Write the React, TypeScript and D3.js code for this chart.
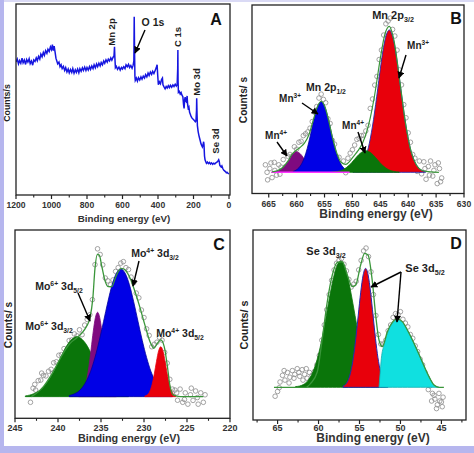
import React from "react";
import * as d3 from "d3";

type Pt = [number, number];

// ---------- Panel A: survey spectrum (binding energy eV, counts a.u.) ----------
const SURVEY: Pt[] = [
  [1200, 69.5], [1193, 71], [1186, 68.5], [1180, 70.2], [1173, 68.8], [1166, 71.5], [1160, 69], [1153, 70.5],
  [1146, 68.2], [1140, 70.8], [1133, 69.4], [1126, 71.2], [1120, 68.6], [1113, 70], [1106, 67.8], [1100, 70.6],
  [1093, 69.8], [1086, 71.6], [1080, 70.2], [1073, 72.4], [1066, 71], [1060, 73.6], [1053, 72.2], [1046, 74.5],
  [1040, 73], [1033, 75.4], [1026, 74], [1020, 76.2], [1013, 75], [1006, 77.4], [1000, 76], [995, 78.6],
  [990, 75.5], [985, 77.8], [980, 74.8], [975, 71.5], [970, 70], [965, 68.5], [958, 69.4], [952, 67],
  [946, 68], [940, 66], [933, 67.2], [926, 65], [920, 66.5], [913, 64.2], [906, 65.8], [900, 63.8],
  [893, 65.5], [886, 64], [880, 66], [873, 63.6], [866, 65.4], [860, 64], [853, 65.8], [846, 63.8],
  [840, 66], [833, 64.6], [826, 66.4], [820, 65], [813, 66.8], [806, 65], [800, 66.6], [793, 65.2],
  [786, 67], [780, 65.6], [773, 67.4], [766, 66], [760, 68], [753, 66.4], [746, 68.4], [740, 67],
  [733, 68.8], [726, 67.4], [720, 69.2], [713, 68], [706, 70], [700, 68.8], [693, 70.6], [686, 69.4],
  [680, 71], [673, 70], [666, 71.6], [660, 70.4], [653, 72], [648, 72.6], [645, 77.5], [643, 72],
  [640, 66.5], [635, 67.2], [628, 65.6], [620, 66.8], [613, 65.2], [606, 66.6], [600, 65.8], [593, 67],
  [586, 66], [580, 68], [573, 67], [566, 68.2], [560, 66.6], [553, 67.6], [546, 66.2], [540, 67.8],
  [536, 70], [534, 93.3], [532, 75], [530, 62], [528, 59.8], [522, 61], [516, 59.4], [510, 61.2],
  [503, 60], [496, 61.6], [490, 60.4], [483, 62], [476, 61], [470, 62.8], [463, 61.6], [456, 63.6],
  [450, 62.4], [443, 64.2], [436, 63], [430, 64.6], [423, 63.4], [416, 65], [410, 66.4], [405, 68],
  [402, 63], [398, 57.5], [392, 59], [386, 58], [380, 60.2], [375, 61], [372, 57.5], [366, 56.4],
  [360, 55.4], [354, 56.6], [348, 55.8], [342, 57], [336, 56], [330, 57.2], [323, 56.2], [316, 57.4],
  [310, 56.6], [303, 57.8], [297, 56.8], [292, 57.6], [289, 66], [288, 75.8], [287, 60], [285, 53.5],
  [280, 54], [275, 52.6], [270, 53.4], [265, 52], [260, 51.2], [256, 47], [253, 45], [250, 49.5],
  [247, 51], [244, 49], [241, 48.6], [238, 50], [236, 51.6], [233, 47], [230, 45.2], [226, 45.8],
  [222, 43], [218, 42], [214, 41], [210, 40.2], [205, 39.6], [200, 39.2], [195, 38.6], [190, 38],
  [186, 38.6], [183, 44], [182, 50.4], [180, 42], [178, 36], [174, 33], [170, 31], [166, 29.5],
  [162, 28], [158, 26.5], [154, 25.6], [150, 24.8], [146, 26], [143, 27.5], [141, 26], [138, 20],
  [135, 18], [131, 17], [127, 16.2], [122, 16.8], [116, 16], [110, 16.6], [104, 15.8], [98, 16.4],
  [92, 15.6], [86, 16.2], [80, 15.8], [74, 16.4], [68, 16.8], [62, 17.4], [58, 18], [55, 17.2],
  [52, 15.2], [48, 14.6], [44, 14.2], [40, 14.8], [35, 13.4], [30, 12.6], [25, 12.2], [20, 11.8],
  [15, 11.2], [10, 11.4], [5, 10.8], [0, 10.6],
];
const A_MAJOR = [1200, 1000, 800, 600, 400, 200, 0];
const A_MINOR = [1100, 900, 700, 500, 300, 100];

// ---------- Panel B: Mn 2p ----------
const B_BASE = 11;
const B_MN4_LEFT: Pt[] = [
  [664.5, 11], [663.5, 11.6], [662.5, 13.5], [661.5, 17], [660.8, 20.5], [660.1, 22], [659.4, 21],
  [658.6, 18], [657.8, 14.5], [657, 12.3], [656, 11.2], [655, 11],
];
const B_MN3_LEFT: Pt[] = [
  [660.6, 11.5], [659.6, 13.4], [659.1, 15.5], [658.6, 18.9], [658.1, 23.7], [657.6, 29.8], [657.1, 36.5],
  [656.6, 42.6], [656.1, 47], [655.6, 48.6], [655.1, 47], [654.6, 42.6], [654.1, 36.5], [653.6, 29.8],
  [653.1, 23.7], [652.6, 18.9], [652.1, 15.5], [651.6, 13.4], [650.6, 11.5],
];
const B_MN4_RIGHT: Pt[] = [
  [653.6, 11.1], [652.6, 11.5], [651.6, 12.5], [650.6, 14.7], [649.6, 18], [648.6, 21.1], [647.6, 22.5],
  [646.6, 21.1], [645.6, 18], [644.6, 14.7], [643.6, 12.5], [642.6, 11.5], [641.6, 11.1],
];
const B_MN3_RIGHT: Pt[] = [
  [649.9, 11.3], [649.4, 11.8], [648.65, 13.4], [647.9, 17], [647.15, 24], [646.4, 35.6], [645.65, 51.2],
  [644.9, 68.2], [644.15, 81.6], [643.4, 86.7], [642.65, 81.6], [641.9, 68.2], [641.15, 51.2], [640.4, 35.6],
  [639.65, 24], [638.9, 17], [638.15, 13.4], [637.4, 11.8], [636.9, 11.3],
];
const B_ENVELOPE: Pt[] = [
  [664.4, 11.2], [663.5, 11.8], [662.5, 13.6], [661.5, 17.2], [660.8, 20.7], [660.1, 22.6], [659.4, 24.2],
  [658.6, 26.5], [657.8, 31], [657, 39], [656.3, 45.7], [655.6, 48.8], [654.9, 45.6], [654.2, 37.8],
  [653.5, 28.6], [652.8, 21.2], [652, 16.2], [651.2, 15.2], [650.5, 16.8], [649.8, 19.5], [649, 22.5],
  [648.2, 26.5], [647.5, 32], [646.8, 40], [646, 52.4], [645, 71.6], [644.2, 84.2], [643.4, 88.6],
  [642.5, 80.3], [641.5, 59.4], [640.5, 37.4], [639.5, 22.3], [638.5, 14.8], [637.5, 12], [636, 11.2], [634.5, 11],
];
const B_POINTS: Pt[] = [
  [665.6, 15], [665.2, 7], [664.8, 13], [664.4, 8.2], [664, 16.3], [663.6, 9.5], [663.2, 15], [662.8, 13.8],
  [662.4, 17.8], [662, 14], [661.6, 19.6], [661.2, 20.5], [660.8, 19.5], [660.4, 24.6], [660, 23.3], [659.6, 27],
  [659.2, 27.5], [658.8, 30.5], [658.4, 31.5], [658, 32.5], [657.6, 34.5], [657.2, 38], [656.8, 43], [656.4, 46],
  [656, 50.5], [655.6, 52.6], [655.2, 49.8], [654.8, 48], [654.4, 39.5], [654, 37], [653.6, 28], [653.2, 26],
  [652.8, 19], [652.4, 19], [652, 13], [651.6, 17], [651.2, 10.8], [650.8, 18.5], [650.4, 21.2], [650, 23],
  [649.6, 25.5], [649.2, 28.5], [648.8, 29], [648.4, 30.5], [648, 30.7], [647.6, 33], [647.2, 36], [646.8, 45],
  [646.4, 50], [646, 57.4], [645.6, 62], [645.2, 71], [644.8, 76], [644.4, 84], [644, 90], [643.6, 91.5],
  [643.2, 93], [642.8, 87], [642.4, 83.5], [642, 76], [641.6, 65.5], [641.2, 57.5], [640.8, 47], [640.4, 40],
  [640, 32], [639.6, 27], [639.2, 20.5], [638.8, 18.5], [638.4, 11.5], [638, 17], [637.6, 10.2], [637.2, 16.6],
  [636.8, 7.3], [636.4, 14.1], [636, 17], [635.6, 9], [635.2, 15], [634.8, 5], [634.4, 13], [634, 8],
  [665.3, 11], [664.6, 16], [663.9, 12], [663, 10], [637, 13], [636.2, 9.5], [635.4, 12], [634.6, 16], [634.2, 6],
];
const B_MAGENTA: Pt[] = [[664.5, 11], [650.5, 11]];
const B_MAJOR = [665, 660, 655, 650, 645, 640, 635, 630];
const B_MINOR = [662.5, 657.5, 652.5, 647.5, 642.5, 637.5, 632.5];

// ---------- Panel C: Mo 3d ----------
const C_BASE = 11.5;
const C_MO6_32: Pt[] = [
  [243.8, 11.9], [242.8, 13.1], [241.8, 16.1], [240.8, 22.3], [239.8, 31.2], [238.8, 39.8], [237.8, 43.4],
  [236.8, 39.8], [235.8, 31.2], [234.8, 22.3], [233.8, 16.1], [232.8, 13.1], [231.8, 11.9],
];
const C_MO6_52: Pt[] = [
  [237.6, 11.8], [237.4, 12.3], [237.15, 13.5], [236.9, 16], [236.65, 20.6], [236.4, 27.6], [236.15, 36.7],
  [235.9, 46.2], [235.65, 53.5], [235.4, 56.3], [235.15, 53.5], [234.9, 46.2], [234.65, 36.7], [234.4, 27.6],
  [234.15, 20.6], [233.9, 16], [233.65, 13.5], [233.4, 12.3], [233.2, 11.8],
];
const C_MO4_32: Pt[] = [
  [238.7, 12.1], [238.2, 12.8], [237.7, 14], [237.2, 16.2], [236.7, 19.8], [236.2, 25], [235.7, 32.3],
  [235.2, 41.3], [234.7, 51.5], [234.2, 61.9], [233.7, 71], [233.2, 77.1], [232.7, 79.3], [232.2, 77.1],
  [231.7, 71], [231.2, 61.9], [230.7, 51.5], [230.2, 41.3], [229.7, 32.3], [229.2, 25], [228.7, 19.8],
  [228.2, 16.2], [227.7, 14], [227.2, 12.8], [226.7, 12.1],
];
const C_MO4_52: Pt[] = [
  [229.9, 11.9], [229.55, 12.7], [229.3, 14.5], [229.05, 18.1], [228.8, 23.6], [228.55, 30.2], [228.3, 35.8],
  [228.05, 38], [227.8, 35.8], [227.55, 30.2], [227.3, 23.6], [227.05, 18.1], [226.8, 14.5], [226.55, 12.7], [226.3, 11.9],
];
const C_ENVELOPE: Pt[] = [
  [243.1, 11.5], [242.5, 13.3], [241.7, 16.8], [240.9, 22.1], [240.15, 28.3], [239.4, 34.5], [238.6, 39.8],
  [237.8, 42.8], [237.25, 45.1], [236.7, 48.7], [236.3, 53.1], [235.95, 63.7], [235.7, 79.6], [235.43, 87.1],
  [235.2, 86.7], [234.9, 80.5], [234.5, 72.6], [234.15, 69.9], [233.75, 69.9], [233.35, 74.3], [233, 77.9],
  [232.6, 79.6], [232.2, 78.8], [231.6, 74.3], [231.05, 67.3], [230.5, 59.3], [229.9, 49.6], [229.3, 40.7],
  [228.85, 37.2], [228.45, 39.8], [228.05, 41.6], [227.65, 38.1], [227.3, 28.3], [227, 17.7], [226.6, 12.4],
  [225.8, 11.5], [223.1, 11.5],
];
const C_POINTS: Pt[] = [
  [243.2, 8.5], [242.9, 16], [242.6, 15], [242.3, 20], [242, 20.3], [241.7, 22.8], [241.4, 22.5], [241.1, 25],
  [240.8, 26], [240.5, 29.5], [240.2, 30], [239.9, 33.5], [239.6, 33.8], [239.3, 37], [239, 36.2], [238.7, 41.3],
  [238.4, 41.6], [238.1, 44.8], [237.8, 43.8], [237.5, 47], [237.2, 44.4], [236.9, 49.5], [236.6, 52.5], [236.3, 55],
  [236, 63], [235.7, 81.6], [235.4, 90], [235.1, 87], [234.8, 81.5], [234.5, 74.5], [234.2, 73], [233.9, 70.9],
  [233.6, 73.5], [233.3, 78], [233, 80], [232.7, 82.4], [232.4, 83.2], [232.1, 80], [231.8, 79], [231.5, 75],
  [231.2, 72], [230.9, 66.5], [230.6, 64], [230.3, 57.5], [230, 53.5], [229.7, 47.5], [229.4, 44], [229.1, 38],
  [228.8, 39.3], [228.5, 40.4], [228.2, 43], [227.9, 41.5], [227.6, 35], [227.3, 29.3], [227, 20.7], [226.7, 15.5],
  [226.4, 15], [226.1, 9.6], [225.8, 15.5], [225.5, 8.5], [225.2, 13.5], [224.9, 7.5], [224.6, 12.5], [224.3, 9.5],
  [224, 14.5], [223.7, 7.5], [223.4, 13.5], [223.1, 8.5], [222.9, 12.5],
  [242.7, 18], [241.9, 24], [240.6, 24], [223.8, 11], [224.5, 16], [225.3, 10], [226.2, 13.5],
];
const C_MAJOR = [245, 240, 235, 230, 225, 220];
const C_MINOR = [242.5, 237.5, 232.5, 227.5, 222.5];

// ---------- Panel D: Se 3d ----------
const D_BASE = 17.2;
const D_SE_32: Pt[] = [
  [62.8, 17.6], [62.3, 17.9], [61.8, 18.8], [61.3, 20.7], [60.8, 24.2], [60.3, 30], [59.8, 38.3], [59.3, 49.1],
  [58.8, 61.2], [58.3, 72.5], [57.8, 80.7], [57.3, 83.7], [56.8, 80.7], [56.3, 72.5], [55.8, 61.2], [55.3, 49.1],
  [54.8, 38.3], [54.3, 30], [53.8, 24.2], [53.3, 20.7], [52.8, 18.8], [52.3, 17.9], [51.8, 17.6],
];
const D_SE_52A: Pt[] = [
  [57, 17.9], [56.65, 19], [56.35, 21.3], [56.05, 25.7], [55.75, 32.8], [55.45, 42.9], [55.15, 55.2],
  [54.85, 67.3], [54.55, 76.4], [54.25, 79.8], [53.95, 76.4], [53.65, 67.3], [53.35, 55.2], [53.05, 42.9],
  [52.75, 32.8], [52.45, 25.7], [52.15, 21.3], [51.85, 19], [51.55, 17.9],
];
const D_SE_52B: Pt[] = [
  [52.62, 17.2], [52.5, 23.7], [52.33, 32.5], [52.01, 39.5], [51.6, 45.6], [50.99, 50.9], [50.38, 52.6],
  [49.77, 51.4], [49.16, 47.4], [48.35, 40.4], [47.53, 32.5], [46.92, 26.3], [46.31, 21.1], [45.9, 18.4], [45.3, 17.2],
];
const D_ENVELOPE: Pt[] = [
  [65.44, 17.2], [61.57, 17.2], [60.96, 19.3], [60.15, 25.4], [59.54, 43], [58.93, 62.3], [58.32, 76.3],
  [57.71, 83], [57.1, 83.3], [56.49, 76.3], [55.87, 70.2], [55.47, 71], [54.86, 81.6], [54.37, 87.7],
  [53.96, 86.8], [53.43, 72.8], [53.03, 55.3], [52.62, 42.1], [52.21, 38.6], [51.6, 46.5], [51, 51.4],
  [50.4, 53.2], [49.77, 51.8], [49.16, 47.4], [48.35, 40.4], [47.53, 32.5], [46.72, 24.6], [45.9, 18.4],
  [45.3, 17.2], [44.7, 17.2],
];
const D_POINTS: Pt[] = [
  [65.3, 12.5], [65, 15], [64.7, 20], [64.4, 23.5], [64.1, 21], [63.8, 25], [63.5, 22.5], [63.2, 26],
  [62.9, 24], [62.6, 27], [62.3, 23], [62, 26.5], [61.7, 24], [61.4, 22], [61.1, 25], [60.8, 23.5],
  [60.5, 25.5], [60.2, 29], [59.9, 34], [59.6, 42], [59.3, 50], [59, 58], [58.7, 66], [58.4, 73.5],
  [58.1, 79], [57.8, 82.5], [57.5, 84], [57.2, 85], [56.9, 82], [56.6, 78.5], [56.3, 74], [56, 70],
  [55.7, 71.5], [55.4, 73], [55.1, 79], [54.8, 84], [54.5, 89], [54.2, 90.5], [53.9, 86], [53.6, 78],
  [53.3, 66], [53, 55], [52.7, 45], [52.4, 40], [52.1, 40], [51.8, 42], [51.5, 47], [51.2, 50],
  [50.9, 54], [50.6, 56], [50.3, 55.5], [50, 57], [49.7, 53], [49.4, 51], [49.1, 49], [48.8, 45],
  [48.5, 43], [48.2, 39], [47.9, 36], [47.6, 32], [47.3, 29], [47, 25], [46.7, 22], [46.4, 18],
  [46.1, 14], [45.8, 11], [45.5, 8], [45.2, 10], [44.9, 7],
  [46.6, 16], [46.2, 10], [45.9, 13], [45.6, 6], [45.3, 14], [45, 9.5], [44.8, 12],
  [64.8, 17], [64.2, 26], [63.6, 19.5], [63, 22], [62.4, 25], [61.9, 21], [61.5, 27], [61, 21],
];
const D_MAJOR = [65, 60, 55, 50, 45];
const D_MINOR = [67.5, 62.5, 57.5, 52.5, 47.5, 42.5];

// ---------- styling ----------
const FONT = "'Liberation Sans', Arial, Helvetica, sans-serif";
const INK = "#1e1e1e";
const COL = {
  survey: "#1616e0",
  envelope: "#3a963a",
  circle: "#8c8c8c",
  red: "#e8000b",
  blue: "#0000e6",
  green: "#0a750a",
  purple: "#7f0a7f",
  cyan: "#10e0e0",
  magenta: "#ff33ff",
};

interface Cfg {
  frame: { x0: number; x1: number; y0: number; y1: number };
  xDomain: [number, number];
  xRange: [number, number];
  yRange: [number, number];
  majors: number[];
  minors: number[];
  tickSize: number;
  tickBaseline: number;
  xLabelSize: number;
  xLabelX: number;
  xLabelY: number;
  yLabel: string;
  yLabelX: number;
  yLabelY: number;
  yLabelSize: number;
  letter: string;
  letterX: number;
  letterY: number;
}

function richSpans(text: string, size: number) {
  const parts = text.split(/(\^\{[^}]*\}|_\{[^}]*\})/).filter((s) => s.length);
  let off = 0;
  return parts.map((p, i) => {
    let target = 0;
    let content = p;
    let fs = size;
    if (p.startsWith("^{")) {
      target = -size * 0.42;
      content = p.slice(2, -1);
      fs = size * 0.65;
    } else if (p.startsWith("_{")) {
      target = size * 0.28;
      content = p.slice(2, -1);
      fs = size * 0.65;
    }
    const dy = target - off;
    off = target;
    return (
      <tspan key={i} dy={dy} fontSize={fs}>
        {content}
      </tspan>
    );
  });
}

function Label(props: { x: number; y: number; text: string; size: number; rotate?: boolean; anchor?: string }) {
  const { x, y, text, size, rotate, anchor } = props;
  return (
    <text
      x={x}
      y={y}
      fontSize={size}
      fontWeight="bold"
      fill={INK}
      textAnchor={anchor || "middle"}
      transform={rotate ? `rotate(-90 ${x} ${y})` : undefined}
    >
      {richSpans(text, size)}
    </text>
  );
}

function Arrow(props: { x1: number; y1: number; x2: number; y2: number }) {
  return <line {...props} stroke="#000" strokeWidth={1.4} markerEnd="url(#arrowhead)" />;
}

function makeScales(c: Cfg) {
  const x = d3.scaleLinear().domain(c.xDomain).range(c.xRange);
  const y = d3.scaleLinear().domain([0, 100]).range(c.yRange);
  return { x, y };
}

function Axes({ c, id }: { c: Cfg; id: string }) {
  const { x } = makeScales(c);
  const f = c.frame;
  return (
    <g>
      <rect x={f.x0} y={f.y0} width={f.x1 - f.x0} height={f.y1 - f.y0} fill="none" stroke="#222" strokeWidth={1.3} />
      {c.majors.map((t) => (
        <g key={`M${id}${t}`}>
          <line x1={x(t)} x2={x(t)} y1={f.y1} y2={f.y1 + 4} stroke="#222" strokeWidth={1.2} />
          <text x={x(t)} y={c.tickBaseline} fontSize={c.tickSize} fontWeight="bold" fill="#333" textAnchor="middle">
            {String(t)}
          </text>
        </g>
      ))}
      {c.minors.map((t) => (
        <line key={`m${id}${t}`} x1={x(t)} x2={x(t)} y1={f.y1} y2={f.y1 + 2.5} stroke="#222" strokeWidth={1.1} />
      ))}
      <text x={c.xLabelX} y={c.xLabelY} fontSize={c.xLabelSize} fontWeight="bold" fill="#333" textAnchor="middle">
        Binding energy (eV)
      </text>
      <text
        x={c.yLabelX}
        y={c.yLabelY}
        fontSize={c.yLabelSize}
        fontWeight="bold"
        fill="#222"
        textAnchor="middle"
        transform={`rotate(-90 ${c.yLabelX} ${c.yLabelY})`}
      >
        {c.yLabel}
      </text>
      <text x={c.letterX} y={c.letterY} fontSize={16} fontWeight="bold" fill="#111" textAnchor="middle">
        {c.letter}
      </text>
    </g>
  );
}

const CFG_A: Cfg = {
  frame: { x0: 16, x1: 230, y0: 4, y1: 195 },
  xDomain: [1200, 0], xRange: [16, 229], yRange: [194, 4],
  majors: A_MAJOR, minors: A_MINOR, tickSize: 8.6, tickBaseline: 208,
  xLabelSize: 9.8, xLabelX: 124, xLabelY: 222,
  yLabel: "Counts/s", yLabelX: 10, yLabelY: 103, yLabelSize: 8.8,
  letter: "A", letterX: 216, letterY: 25,
};
const CFG_B: Cfg = {
  frame: { x0: 252, x1: 464, y0: 5, y1: 193.5 },
  xDomain: [668, 630], xRange: [252, 464], yRange: [193, 5],
  majors: B_MAJOR, minors: B_MINOR, tickSize: 8.6, tickBaseline: 206.5,
  xLabelSize: 12, xLabelX: 376, xLabelY: 218,
  yLabel: "Counts/ s", yLabelX: 247, yLabelY: 100, yLabelSize: 10.2,
  letter: "B", letterX: 456, letterY: 24,
};
const CFG_C: Cfg = {
  frame: { x0: 15, x1: 230, y0: 230, y1: 418.3 },
  xDomain: [245, 220], xRange: [15, 230], yRange: [418.3, 230],
  majors: C_MAJOR, minors: C_MINOR, tickSize: 9, tickBaseline: 430.5,
  xLabelSize: 10.8, xLabelX: 129, xLabelY: 442,
  yLabel: "Counts/ s", yLabelX: 12, yLabelY: 325, yLabelSize: 10.2,
  letter: "C", letterX: 219, letterY: 250,
};
const CFG_D: Cfg = {
  frame: { x0: 253, x1: 466, y0: 230, y1: 420 },
  xDomain: [68, 42], xRange: [253, 466], yRange: [420, 230],
  majors: D_MAJOR, minors: D_MINOR, tickSize: 9, tickBaseline: 430.5,
  xLabelSize: 12, xLabelX: 373, xLabelY: 442,
  yLabel: "Counts/ s", yLabelX: 248, yLabelY: 325, yLabelSize: 10.8,
  letter: "D", letterX: 456, letterY: 249,
};

function peakPath(c: Cfg, data: Pt[], base: number) {
  const { x, y } = makeScales(c);
  return (
    d3
      .area<Pt>()
      .x((d) => x(d[0]))
      .y0(y(base))
      .y1((d) => y(d[1]))
      .curve(d3.curveMonotoneX)(data) || ""
  );
}
function curvePath(c: Cfg, data: Pt[], curve: d3.CurveFactory = d3.curveMonotoneX) {
  const { x, y } = makeScales(c);
  return (
    d3
      .line<Pt>()
      .x((d) => x(d[0]))
      .y((d) => y(d[1]))
      .curve(curve)(data) || ""
  );
}
function Circles({ c, data }: { c: Cfg; data: Pt[] }) {
  const { x, y } = makeScales(c);
  return (
    <g fill="none" stroke={COL.circle} strokeWidth={0.8}>
      {data.map((d, i) => (
        <circle key={i} cx={x(d[0])} cy={y(d[1])} r={2.3} />
      ))}
    </g>
  );
}

export default function App() {
  return (
    <svg
      width={474}
      height={453}
      viewBox="0 0 474 453"
      style={{ position: "fixed", left: 0, top: 0, display: "block" }}
      fontFamily={FONT}
    >
      <defs>
        <marker id="arrowhead" viewBox="0 0 10 10" refX={9} refY={5} markerWidth={7} markerHeight={7}
          markerUnits="userSpaceOnUse" orient="auto">
          <path d="M0,0 L10,5 L0,10 z" fill="#000" />
        </marker>
        {[CFG_A, CFG_B, CFG_C, CFG_D].map((c, i) => (
          <clipPath id={`clip${i}`} key={i}>
            <rect x={c.frame.x0} y={c.frame.y0} width={c.frame.x1 - c.frame.x0} height={c.frame.y1 - c.frame.y0} />
          </clipPath>
        ))}
      </defs>
      <rect x={0} y={0} width={474} height={453} fill="#ffffff" />
      <rect x={0} y={0} width={474} height={2} fill="#dadaf5" />
      <rect x={0} y={0} width={4} height={453} fill="#b6b6ee" />
      <rect x={0} y={446} width={474} height={7} fill="#b6b6ee" />

      {/* Panel A */}
      <g clipPath="url(#clip0)">
        <path d={curvePath(CFG_A, SURVEY, d3.curveLinear)} fill="none" stroke={COL.survey} strokeWidth={1.5} />
      </g>
      <Axes c={CFG_A} id="A" />
      <Label x={115} y={32} text="Mn 2p" size={9.5} rotate />
      <Label x={153} y={26} text="O 1s" size={10.5} />
      <Arrow x1={145} y1={30} x2={135} y2={53} />
      <Label x={181} y={37} text="C 1s" size={9.5} rotate />
      <Label x={200} y={82} text="Mo 3d" size={9.5} rotate />
      <Label x={219} y={141} text="Se 3d" size={9.5} rotate />

      {/* Panel B */}
      <g clipPath="url(#clip1)">
        <Circles c={CFG_B} data={B_POINTS} />
        <path d={peakPath(CFG_B, B_MN4_LEFT, B_BASE)} fill={COL.purple} stroke={COL.purple} strokeWidth={0.8} />
        <path d={peakPath(CFG_B, B_MN3_LEFT, B_BASE)} fill={COL.blue} stroke="#0000a0" strokeWidth={0.8} />
        <path d={peakPath(CFG_B, B_MN3_RIGHT, B_BASE)} fill={COL.red} stroke="#2828b0" strokeWidth={0.9} />
        <path d={peakPath(CFG_B, B_MN4_RIGHT, B_BASE)} fill={COL.green} stroke={COL.green} strokeWidth={0.8} />
        <path d={curvePath(CFG_B, B_MAGENTA, d3.curveLinear)} fill="none" stroke={COL.magenta} strokeWidth={1.6} />
        <path d={curvePath(CFG_B, B_ENVELOPE)} fill="none" stroke={COL.envelope} strokeWidth={1.2} />
      </g>
      <Axes c={CFG_B} id="B" />
      <Label x={393} y={19} text="Mn 2p_{3/2}" size={11} />
      <Label x={418} y={49} text="Mn^{3+}" size={10} />
      <Arrow x1={406} y1={55} x2={399} y2={78} />
      <Label x={326} y={91} text="Mn 2p_{1/2}" size={10.5} />
      <Label x={290} y={102} text="Mn^{3+}" size={10} />
      <Arrow x1={302} y1={103} x2={318} y2={114} />
      <Label x={353} y={129} text="Mn^{4+}" size={10} />
      <Arrow x1={358} y1={132} x2={365} y2={153} />
      <Label x={276} y={139} text="Mn^{4+}" size={10} />
      <Arrow x1={277} y1={142} x2={287} y2={156} />

      {/* Panel C */}
      <g clipPath="url(#clip2)">
        <Circles c={CFG_C} data={C_POINTS} />
        <path d={peakPath(CFG_C, C_MO6_32, C_BASE)} fill={COL.green} stroke={COL.green} strokeWidth={0.8} />
        <path d={peakPath(CFG_C, C_MO6_52, C_BASE)} fill={COL.purple} stroke={COL.purple} strokeWidth={0.8} />
        <path d={peakPath(CFG_C, C_MO4_32, C_BASE)} fill={COL.blue} stroke="#0000a0" strokeWidth={0.8} />
        <path d={peakPath(CFG_C, C_MO4_52, C_BASE)} fill={COL.red} stroke={COL.red} strokeWidth={0.8} />
        <path d={curvePath(CFG_C, C_ENVELOPE)} fill="none" stroke={COL.envelope} strokeWidth={1.3} />
      </g>
      <Axes c={CFG_C} id="C" />
      <Label x={155} y={257} text="Mo^{4+} 3d_{3/2}" size={10.5} />
      <Arrow x1={139} y1={261} x2={133} y2={286} />
      <Label x={59} y={290} text="Mo^{6+} 3d_{5/2}" size={10.5} />
      <Arrow x1={78} y1={293} x2={90} y2={321} />
      <Label x={49} y={330} text="Mo^{6+} 3d_{3/2}" size={10.5} />
      <Label x={180} y={337} text="Mo^{4+} 3d_{5/2}" size={10.5} />

      {/* Panel D */}
      <g clipPath="url(#clip3)">
        <Circles c={CFG_D} data={D_POINTS} />
        <path d={peakPath(CFG_D, D_SE_32, D_BASE)} fill={COL.green} stroke={COL.green} strokeWidth={0.8} />
        <path d={peakPath(CFG_D, D_SE_52A, D_BASE)} fill={COL.red} stroke="#2828b0" strokeWidth={1} />
        <path d={peakPath(CFG_D, D_SE_52B, D_BASE)} fill={COL.cyan} stroke="#10b0b0" strokeWidth={0.8} />
        <path d={curvePath(CFG_D, D_ENVELOPE)} fill="none" stroke={COL.envelope} strokeWidth={1.3} />
      </g>
      <Axes c={CFG_D} id="D" />
      <Label x={326} y={255} text="Se 3d_{3/2}" size={11} />
      <Label x={425} y={272} text="Se 3d_{5/2}" size={11} />
      <Arrow x1={401} y1={272} x2={371} y2={287} />
      <Arrow x1={401} y1={272} x2={397} y2={322} />
    </svg>
  );
}
